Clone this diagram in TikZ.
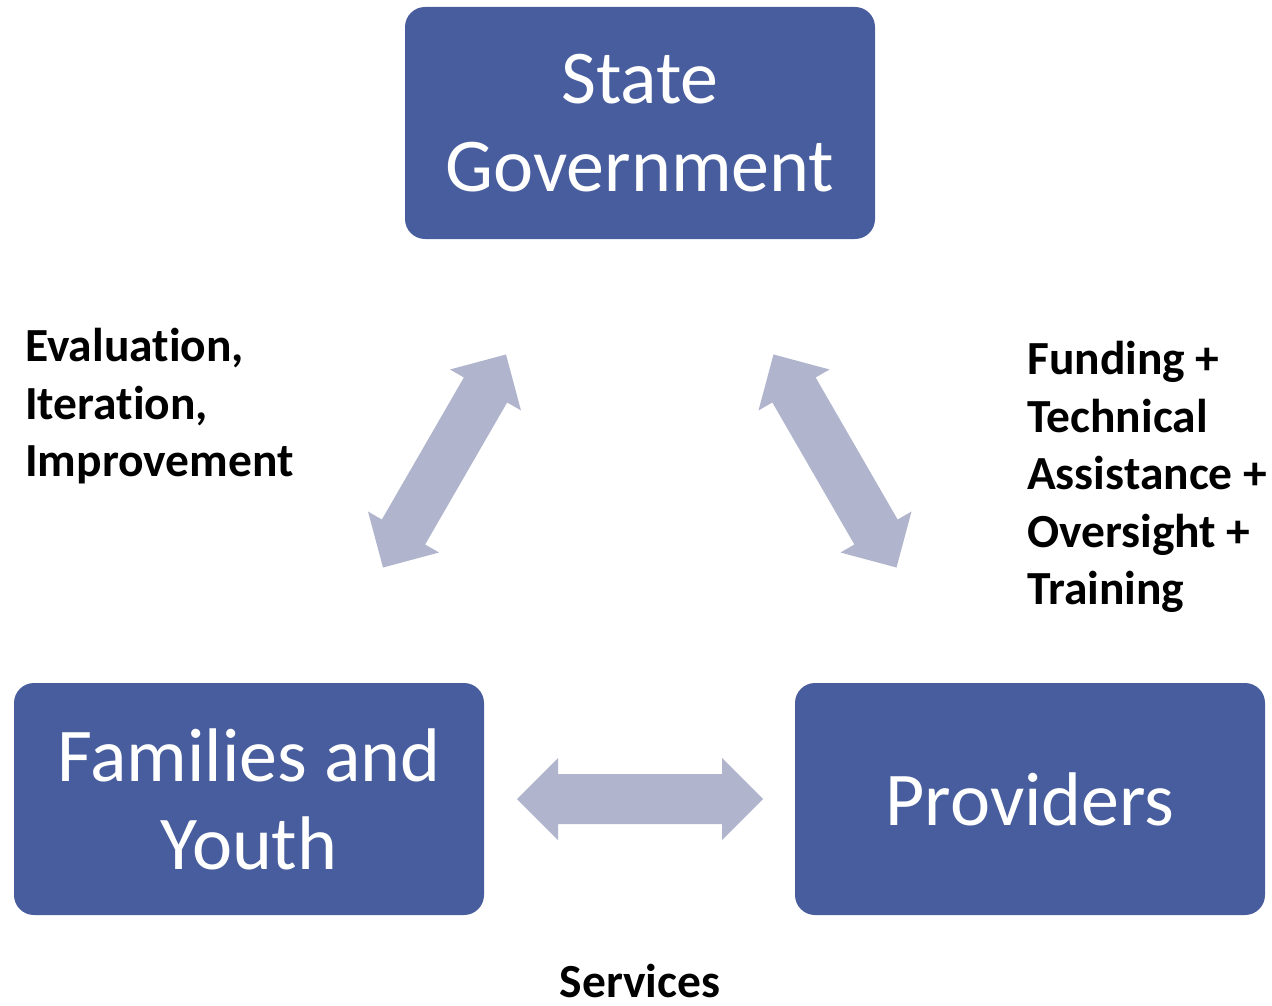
\documentclass[tikz,border=0pt]{standalone}
\usepackage{fontspec}
\setmainfont{Carlito}[Ligatures=NoCommon]
\definecolor{boxblue}{RGB}{72,93,157}
\definecolor{arrowgray}{RGB}{176,181,205}
\tikzset{
  x=1pt, y=-1pt,
  bluebox/.style={draw=none, fill=boxblue, rounded corners=20pt, minimum width=470pt, minimum height=232pt,
    text=white, align=center, inner sep=0pt, font=\fontsize{76}{88}\selectfont},
  lbl/.style={align=left, inner sep=0pt, font=\fontsize{47.5}{57.5}\selectfont\bfseries},
  dblarrow/.pic={\fill[arrowgray] (-123,0) -- (-82,-41) -- (-82,-25) -- (82,-25) -- (82,-41) -- (123,0)
     -- (82,41) -- (82,25) -- (-82,25) -- (-82,41) -- cycle;}
}
\begin{document}
\begin{tikzpicture}
\useasboundingbox (0,0) rectangle (1272,1006);
\node[bluebox] (state) at (640,123) {State\\Government};
\node[bluebox] (fam) at (249,799) {Families and\\Youth};
\node[bluebox] (prov) at (1030,799) {Providers};
\coordinate (aleft) at (444.5,461);
\coordinate (aright) at (835,461);
\coordinate (abottom) at (640,799);
\pic[rotate=60] at (aleft) {dblarrow};
\pic[rotate=-60] at (aright) {dblarrow};
\pic at (abottom) {dblarrow};
\node[lbl, anchor=north west] (eval) at (25,328) {Evaluation,\\Iteration,\\Improvement};
\node[lbl, anchor=north west] (fund) at (1027,341) {Funding +\\Technical\\Assistance +\\Oversight +\\Training};
\node[inner sep=0pt, font=\fontsize{47.5}{57.5}\selectfont\bfseries, text depth=0pt, anchor=base] (serv) at (640,997) {Services};
\end{tikzpicture}
\end{document}
